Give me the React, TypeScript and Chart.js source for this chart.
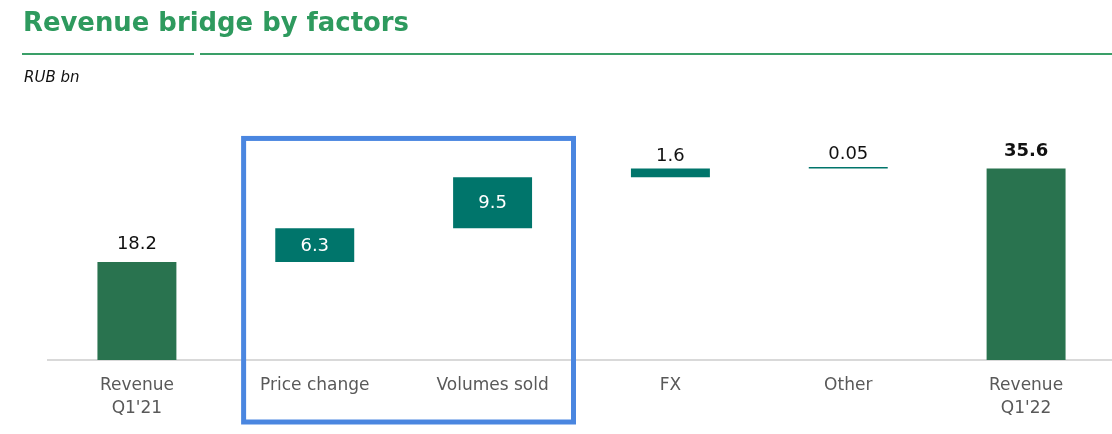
import React, { useEffect, useRef } from "react";
import { Chart, registerables } from "chart.js";

Chart.register(...registerables);

const categories: (string | string[])[] = [
  ["Revenue", "Q1'21"],
  "Price change",
  "Volumes sold",
  "FX",
  "Other",
  ["Revenue", "Q1'22"],
];
const values: number[] = [18.2, 6.3, 9.5, 1.6, 0.05, 35.6];
const kinds: string[] = ["total", "delta", "delta", "delta", "delta", "total"];
const valueLabels: string[] = ["18.2", "6.3", "9.5", "1.6", "0.05", "35.6"];
const labelInside: boolean[] = [false, true, true, false, false, false];
const labelBold: boolean[] = [false, false, false, false, false, true];
const highlighted: number[] = [1, 2];

const TITLE = "Revenue bridge by factors";
const UNIT = "RUB bn";

const TOTAL_COLOR = "#29734f";
const DELTA_COLOR = "#00756b";
const FONT = "'DejaVu Sans', sans-serif";

function buildRanges(): [number, number][] {
  const out: [number, number][] = [];
  let run = 0;
  values.forEach((v, i) => {
    if (kinds[i] === "total") {
      out.push([0, v]);
      run = v;
    } else {
      out.push([run, run + v]);
      run = run + v;
    }
  });
  return out;
}

const overlayPlugin = {
  id: "overlay",
  afterDatasetsDraw(chart: any) {
    const ctx = chart.ctx;
    const meta = chart.getDatasetMeta(0);
    ctx.save();
    meta.data.forEach((el: any, i: number) => {
      const top = Math.min(el.y, el.base);
      const bot = Math.max(el.y, el.base);
      ctx.font = `${labelBold[i] ? "bold " : ""}18px ${FONT}`;
      ctx.textAlign = "center";
      if (labelInside[i]) {
        ctx.fillStyle = "#ffffff";
        ctx.textBaseline = "middle";
        ctx.fillText(valueLabels[i], el.x, (top + bot) / 2 + 1);
      } else {
        ctx.fillStyle = "#111111";
        ctx.textBaseline = "alphabetic";
        ctx.fillText(valueLabels[i], el.x, top - (kinds[i] === "total" ? 13 : 8));
      }
    });
    // highlight box
    const xs = chart.scales.x;
    const ys = chart.scales.y;
    const step = xs.getPixelForValue(1) - xs.getPixelForValue(0);
    const left = xs.getPixelForValue(highlighted[0]) - step * 0.4;
    const right = xs.getPixelForValue(highlighted[highlighted.length - 1]) + step * 0.455;
    const topY = ys.getPixelForValue(41.2);
    const botY = chart.chartArea.bottom + 62;
    ctx.strokeStyle = "#4a86e0";
    ctx.lineWidth = 5;
    ctx.strokeRect(left, topY, right - left, botY - topY);

    // title and header lines
    ctx.fillStyle = "#2e9a5e";
    let size = 28;
    ctx.font = `bold ${size}px ${FONT}`;
    const w = ctx.measureText(TITLE).width;
    size = Math.min(30, size * (386 / w));
    ctx.font = `bold ${size.toFixed(1)}px ${FONT}`;
    ctx.textAlign = "left";
    ctx.textBaseline = "alphabetic";
    ctx.fillText(TITLE, 23, 31);
    ctx.fillStyle = "#3a9f68";
    ctx.fillRect(22, 53, 172, 2);
    ctx.fillRect(200, 53, 920, 2);
    ctx.fillStyle = "#111111";
    ctx.font = `italic 15px ${FONT}`;
    ctx.fillText(UNIT, 24, 82);
    ctx.restore();
  },
};

export default function App() {
  const ref = useRef<HTMLCanvasElement | null>(null);
  useEffect(() => {
    document.body.style.margin = "0";
    document.body.style.overflow = "hidden";
    const ranges = buildRanges();
    const chart = new Chart(ref.current as HTMLCanvasElement, {
      type: "bar",
      data: {
        labels: categories as any,
        datasets: [
          {
            data: ranges as any,
            backgroundColor: kinds.map((k) => (k === "total" ? TOTAL_COLOR : DELTA_COLOR)),
            barPercentage: 0.444,
            categoryPercentage: 1,
            minBarLength: 1.5,
            borderSkipped: false,
          },
        ],
      },
      options: {
        responsive: false,
        animation: false,
        devicePixelRatio: 1,
        layout: { padding: { top: 118, left: 48, right: 1, bottom: 0 } },
        plugins: { legend: { display: false }, tooltip: { enabled: false }, title: { display: false } },
        scales: {
          x: {
            grid: { display: false, drawTicks: false },
            border: { display: true, color: "#d9d9d9", width: 2 },
            ticks: {
              color: "#595959",
              font: { family: FONT, size: 17, lineHeight: 1.35 },
              padding: 14,
              autoSkip: false,
              maxRotation: 0,
            },
            afterFit: (scale: any) => {
              scale.height = 74;
            },
          },
          y: { display: false, min: 0, max: 45 },
        },
      },
      plugins: [overlayPlugin],
    });
    return () => chart.destroy();
  }, []);
  return (
    <div style={{ position: "absolute", left: 0, top: 0, width: 1112, height: 434, overflow: "hidden", background: "#fff" }}>
      <canvas ref={ref} width={1116} height={434} style={{ width: 1116, height: 434, display: "block" }} />
    </div>
  );
}
